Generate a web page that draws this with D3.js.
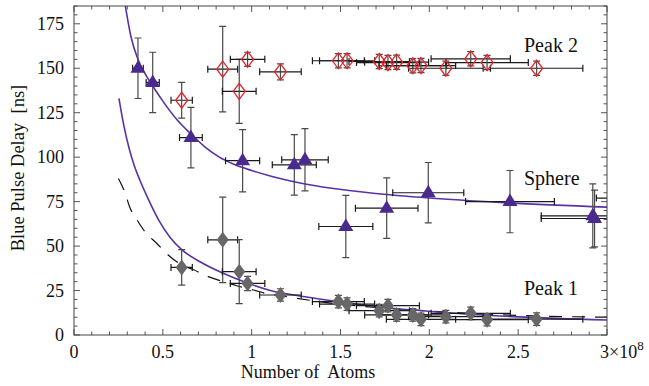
<!DOCTYPE html>
<html>
<head>
<meta charset="utf-8">
<script src="https://cdn.jsdelivr.net/npm/d3@7"></script>
<style>
  body { margin: 0; background: #fff; }
  text { font-family: "Liberation Serif", "Times New Roman", serif; fill: #111; }
</style>
</head>
<body>
<div id="chart"></div>
<script>
// ---- data (atoms in units of 1e8, delay in ns) ----
const sphereX    = [0.36, 0.443, 0.658, 0.949, 1.24, 1.30, 1.53, 1.76, 1.994, 2.454, 2.92, 2.93, 3.14];
const sphereY    = [150, 142, 111, 98, 95.7, 98.5, 61, 71.3, 80, 75, 67, 65.5, 77];
const sphereXErr = [0.03, 0.037, 0.064, 0.096, 0.124, 0.131, 0.152, 0.176, 0.2, 0.25, 0.29, 0.3, 0.2];
const sphereYErr = [17, 17, 17, 17.5, 17, 17.5, 17.5, 17, 17, 17.5, 18, 16, 17];

const peakX    = [0.606, 0.837, 0.93, 0.977, 1.162, 1.488, 1.537, 1.718, 1.767, 1.816, 1.907, 1.953, 2.093, 2.233, 2.325, 2.604];
const peakXErr = [0.06, 0.084, 0.095, 0.097, 0.117, 0.146, 0.155, 0.17, 0.177, 0.18, 0.19, 0.195, 0.21, 0.223, 0.232, 0.26];
const peak2Y    = [132, 149.5, 137, 155, 148, 154.2, 154.2, 153.8, 153.2, 153.4, 151.4, 151.5, 150, 155.3, 153.2, 150];
const peak2YErr = [10, 24, 18, 4, 4.5, 4, 4, 4, 4, 4, 4, 4, 4, 4, 4, 4];
const peak1Y    = [38, 53.5, 35.6, 29, 22.5, 18.8, 17.4, 13.7, 16.5, 11.3, 11.3, 8.8, 10.3, 12.2, 8.6, 8.9];
const peak1YErr = [10, 24, 18, 4, 3.5, 3.5, 3.5, 3.5, 3.5, 3.5, 3.5, 3.5, 3.5, 3.5, 3.5, 3.5];

// fitted curves
const sphereFitX = [0.289, 0.32, 0.36, 0.40, 0.443, 0.5, 0.58, 0.658, 0.74, 0.818, 0.9, 1.0, 1.12, 1.272, 1.45, 1.684, 2.0, 2.4, 3.0];
const sphereFitY = [185, 168, 155, 147, 140, 131.5, 121, 113, 105.5, 100, 96, 92.5, 89, 85.5, 82.5, 79.7, 77, 74.5, 71.9];
const peak1FitX = [0.253, 0.28, 0.31, 0.34, 0.371, 0.42, 0.48, 0.54, 0.606, 0.709, 0.84, 0.972, 1.1, 1.27, 1.488, 1.7, 2.06, 2.5, 3.0];
const peak1FitY = [133, 118, 105, 95, 87, 76, 64, 55, 48, 41.2, 34.7, 29.4, 25.2, 21.9, 18.8, 16, 12.8, 10.2, 8.4];
const dashFitX = [0.25, 0.287, 0.315, 0.353, 0.4, 0.465, 0.53, 0.606, 0.67, 0.756, 0.84, 0.916, 1.01, 1.075, 1.2, 1.4, 1.7, 2.0, 2.5, 3.0];
const dashFitY = [88, 80, 71.5, 65, 58, 51.6, 45, 39.4, 36.8, 32.8, 30, 27.7, 25.3, 23.5, 21.5, 18.5, 15.5, 13.5, 11, 10];

const xTicks = [0, 0.5, 1, 1.5, 2, 2.5, 3];
const xTickLabels = ["0", "0.5", "1", "1.5", "2", "2.5", "3"];
const yTicks = [0, 25, 50, 75, 100, 125, 150, 175];

// ---- layout ----
const width = 649, height = 386;
const plot = { left: 74, right: 607, top: 6, bottom: 335 };
const purple = '#4b2a8f';
const curvePurple = '#5733a6';
const red = '#e8232b';
const grey = '#676767';

const x = d3.scaleLinear().domain([0, 3]).range([plot.left, plot.right]);
const y = d3.scaleLinear().domain([0, 185]).range([plot.bottom, plot.top]);

const svg = d3.select('#chart').append('svg')
    .attr('width', width)
    .attr('height', height);

svg.append('clipPath').attr('id', 'clip')
  .append('rect')
    .attr('x', plot.left).attr('y', plot.top)
    .attr('width', plot.right - plot.left)
    .attr('height', plot.bottom - plot.top);

const g = svg.append('g').attr('clip-path', 'url(#clip)');

// ---- curves ----
const line = d3.line().x(d => x(d[0])).y(d => y(d[1])).curve(d3.curveMonotoneX);

g.append('path')
    .attr('d', line(d3.zip(dashFitX, dashFitY)))
    .attr('fill', 'none').attr('stroke', '#111').attr('stroke-width', 1.2)
    .attr('stroke-dasharray', '13,10');
g.append('path')
    .attr('d', line(d3.zip(peak1FitX, peak1FitY)))
    .attr('fill', 'none').attr('stroke', curvePurple).attr('stroke-width', 1.6);
g.append('path')
    .attr('d', line(d3.zip(sphereFitX, sphereFitY)))
    .attr('fill', 'none').attr('stroke', curvePurple).attr('stroke-width', 1.6);

// ---- error bars ----
const cap = 3.5;
const drawErrors = (xs, ys, xe, ye) => {
    const pts = xs.map((v, i) => ({ x: v, y: ys[i], xe: xe[i], ye: ye[i] }));
    const eg = g.append('g');
    pts.forEach(p => {
        const cx = x(p.x), cy = y(p.y);
        const x0 = x(p.x - p.xe), x1 = x(p.x + p.xe);
        const y0 = y(p.y - p.ye), y1 = y(p.y + p.ye);
        eg.append('path')
            .attr('d', `M${x0},${cy}H${x1}M${x0},${cy - cap}V${cy + cap}M${x1},${cy - cap}V${cy + cap}`)
            .attr('stroke', '#1a1a1a').attr('stroke-width', 1.2).attr('fill', 'none');
        eg.append('path')
            .attr('d', `M${cx},${y0}V${y1}M${cx - cap},${y0}H${cx + cap}M${cx - cap},${y1}H${cx + cap}`)
            .attr('stroke', '#4a4a4a').attr('stroke-width', 1.2).attr('fill', 'none');
    });
};

drawErrors(peakX, peak2Y, peakXErr, peak2YErr);
drawErrors(peakX, peak1Y, peakXErr, peak1YErr);
drawErrors(sphereX, sphereY, sphereXErr, sphereYErr);

// ---- markers ----
const diamond = 'M0,-8L6,0L0,8L-6,0Z';
const triangle = 'M0,-8L7.5,4.5L-7.5,4.5Z';

g.selectAll('.peak2')
    .data(d3.zip(peakX, peak2Y))
    .join('path')
    .attr('class', 'peak2')
    .attr('d', diamond)
    .attr('transform', d => `translate(${x(d[0])},${y(d[1])})`)
    .attr('fill', 'none').attr('stroke', red).attr('stroke-width', 1.3);

g.selectAll('.peak1')
    .data(d3.zip(peakX, peak1Y))
    .join('path')
    .attr('class', 'peak1')
    .attr('d', diamond)
    .attr('transform', d => `translate(${x(d[0])},${y(d[1])})`)
    .attr('fill', grey);

g.selectAll('.sphere')
    .data(d3.zip(sphereX, sphereY))
    .join('path')
    .attr('class', 'sphere')
    .attr('d', triangle)
    .attr('transform', d => `translate(${x(d[0])},${y(d[1])})`)
    .attr('fill', purple);

// ---- frame & ticks ----
const axisCol = '#444';
svg.append('rect')
    .attr('x', plot.left).attr('y', plot.top)
    .attr('width', plot.right - plot.left)
    .attr('height', plot.bottom - plot.top)
    .attr('fill', 'none').attr('stroke', axisCol).attr('stroke-width', 1);

const xMinor = d3.range(0, 31).map(i => i / 10);
const yMinor = d3.range(0, 38).map(i => i * 5);
const tg = svg.append('g').attr('stroke', axisCol).attr('stroke-width', 0.9);

xMinor.forEach(v => {
    const major = Math.abs(v * 2 - Math.round(v * 2)) < 1e-6;
    const len = major ? 6 : 3.5;
    tg.append('line').attr('x1', x(v)).attr('x2', x(v)).attr('y1', plot.bottom).attr('y2', plot.bottom - len);
    tg.append('line').attr('x1', x(v)).attr('x2', x(v)).attr('y1', plot.top).attr('y2', plot.top + len);
});
yMinor.forEach(v => {
    const major = v % 25 === 0;
    const len = major ? 6 : 3.5;
    tg.append('line').attr('y1', y(v)).attr('y2', y(v)).attr('x1', plot.left).attr('x2', plot.left + len);
    tg.append('line').attr('y1', y(v)).attr('y2', y(v)).attr('x1', plot.right).attr('x2', plot.right - len);
});

// tick labels
svg.selectAll('.ylab')
    .data(yTicks)
    .join('text')
    .attr('class', 'ylab')
    .attr('x', 64)
    .attr('y', d => y(d))
    .attr('dy', '0.34em')
    .attr('text-anchor', 'end')
    .style('font-size', '18px')
    .text(d => d);

svg.selectAll('.xlab')
    .data(xTicks.slice(0, -1))
    .join('text')
    .attr('class', 'xlab')
    .attr('x', d => x(d))
    .attr('y', 358)
    .attr('text-anchor', 'middle')
    .style('font-size', '18px')
    .text((d, i) => xTickLabels[i]);

const lastLab = svg.append('text')
    .attr('x', x(3) - 7)
    .attr('y', 358)
    .style('font-size', '18px')
    .text(xTickLabels[6] + '\u00d710');
lastLab.append('tspan')
    .attr('dy', -8)
    .style('font-size', '13px')
    .text('8');

// axis titles
svg.append('text')
    .attr('x', 308).attr('y', 378)
    .attr('text-anchor', 'middle')
    .style('font-size', '18px')
    .style('white-space', 'pre')
    .text('Number of  Atoms');

svg.append('text')
    .attr('transform', 'translate(24,168) rotate(-90)')
    .attr('text-anchor', 'middle')
    .style('font-size', '18.5px')
    .style('white-space', 'pre')
    .text('Blue Pulse Delay  [ns]');

// series labels
const seriesLabels = [['Peak 2', 51.5], ['Sphere', 185], ['Peak 1', 295]];
svg.selectAll('.slab')
    .data(seriesLabels)
    .join('text')
    .attr('class', 'slab')
    .attr('x', 524)
    .attr('y', d => d[1])
    .style('font-size', '20px')
    .text(d => d[0]);
</script>
</body>
</html>
